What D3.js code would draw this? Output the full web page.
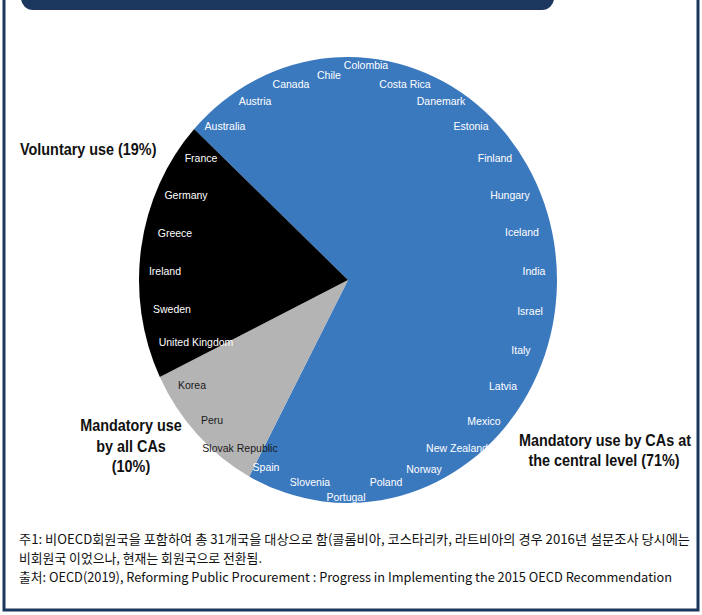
<!DOCTYPE html>
<html>
<head>
<meta charset="utf-8">
<script src="https://cdn.jsdelivr.net/npm/d3@7"></script>
<style>
  html, body { margin: 0; padding: 0; background: #ffffff; }
  svg { display: block; }
</style>
</head>
<body>
<svg id="chart" width="702" height="615"></svg>
<script>
// ---------------- DATA ----------------
const categories = [
  "Mandatory use by CAs at the central level",
  "Mandatory use by all CAs",
  "Voluntary use"
];
const shares = [71, 10, 19];
const shareLabels = ["71%", "10%", "19%"];

const countriesCentral = ["Australia", "Austria", "Canada", "Chile", "Colombia", "Costa Rica",
  "Danemark", "Estonia", "Finland", "Hungary", "Iceland", "India", "Israel", "Italy",
  "Latvia", "Mexico", "New Zealand", "Norway", "Poland", "Portugal", "Slovenia", "Spain"];
const countriesAll = ["Korea", "Peru", "Slovak Republic"];
const countriesVoluntary = ["France", "Germany", "Greece", "Ireland", "Sweden", "United Kingdom"];

const footnotes = [
  "주1: 비OECD회원국을 포함하여 총 31개국을 대상으로 함(콜롬비아, 코스타리카, 라트비아의 경우 2016년 설문조사 당시에는",
  "비회원국 이었으나, 현재는 회원국으로 전환됨.",
  "출처: OECD(2019), Reforming Public Procurement : Progress in Implementing the 2015 OECD Recommendation"
];

// ---------------- LAYOUT (positions / styles only) ----------------
const W = 702, H = 615;
const navy = "#1c375e";
const sliceColors = ["#3b79bf", "#b4b4b4", "#000000"];
const labelColors = ["#ffffff", "#1a1a1a", "#ffffff"];
const cx = 348, cy = 280, R = 209, yStretch = 1.067;
const startAngle = -47.4 * Math.PI / 180;

// label anchor points (centre x, baseline y)
const labelXY = {
  "Australia": [225, 130], "Austria": [255, 105], "Canada": [291, 87.5], "Chile": [329, 79],
  "Colombia": [366, 69], "Costa Rica": [405, 88], "Danemark": [441, 105], "Estonia": [471, 130],
  "Finland": [495, 162], "Hungary": [510, 199], "Iceland": [522, 236], "India": [534, 275],
  "Israel": [530, 315], "Italy": [521, 354], "Latvia": [503, 390], "Mexico": [484, 425],
  "New Zealand": [457, 452], "Norway": [424, 473], "Poland": [386, 486], "Portugal": [346, 501],
  "Slovenia": [310, 486], "Spain": [266, 471],
  "Korea": [192, 389], "Peru": [212, 424], "Slovak Republic": [240, 452],
  "France": [201, 162], "Germany": [186, 199], "Greece": [175, 237], "Ireland": [165, 275],
  "Sweden": [172, 313], "United Kingdom": [196, 346]
};

const svg = d3.select("#chart");

// frame
svg.append("rect").attr("x", 0).attr("y", 0).attr("width", W).attr("height", H).attr("fill", "#fff");
svg.append("path")
  .attr("d", `M4,0 V610 H698 V0`)
  .attr("fill", "none").attr("stroke", navy).attr("stroke-width", 3);

// header bar (cut at top)
svg.append("rect")
  .attr("x", 21).attr("y", -20).attr("width", 533).attr("height", 30)
  .attr("rx", 12).attr("ry", 12).attr("fill", navy);

// ---------------- PIE ----------------
const pie = d3.pie().sort(null).value(d => d)
  .startAngle(startAngle).endAngle(startAngle + 2 * Math.PI);
const arc = d3.arc().innerRadius(0).outerRadius(R);

const gPie = svg.append("g")
  .attr("transform", `translate(${cx},${cy}) scale(1,${yStretch})`);
gPie.selectAll("path.slice")
  .data(pie(shares))
  .join("path")
  .attr("class", "slice")
  .attr("d", arc)
  .attr("fill", (d, i) => sliceColors[i]);

// country labels
const groups = [countriesCentral, countriesAll, countriesVoluntary];
const gLab = svg.append("g")
  .attr("font-family", "'Liberation Sans', Arial, sans-serif")
  .attr("font-size", 10.5)
  .attr("text-anchor", "middle");
groups.forEach((list, gi) => {
  gLab.selectAll(null)
    .data(list)
    .join("text")
    .attr("x", d => labelXY[d][0])
    .attr("y", d => labelXY[d][1])
    .attr("fill", labelColors[gi])
    .text(d => d);
});

// ---------------- CATEGORY ANNOTATIONS ----------------
// condensed bold look: natural width at 14.4px, stretched vertically
const ann = svg.append("g")
  .attr("font-family", "'Liberation Sans', Arial, sans-serif")
  .attr("font-weight", "bold")
  .attr("font-size", 14.4)
  .attr("fill", "#111");

function annLine(txt, x, y, anchor) {
  ann.append("text")
    .attr("transform", `translate(${x},${y}) scale(1,1.2)`)
    .attr("text-anchor", anchor)
    .text(txt);
}
// Voluntary use
annLine(`${categories[2]} (${shareLabels[2]})`, 20, 155, "start");
// Mandatory use by all CAs
annLine("Mandatory use", 131, 431, "middle");
annLine("by all CAs", 131, 452, "middle");
annLine(`(${shareLabels[1]})`, 131, 472, "middle");
// Mandatory use by CAs at the central level
annLine("Mandatory use by CAs at", 605, 446, "middle");
annLine(`the central level (${shareLabels[0]})`, 604, 466, "middle");

// ---------------- FOOTNOTES ----------------
const fn = svg.append("g")
  .attr("font-family", "'Noto Sans CJK KR', 'Noto Sans', sans-serif")
  .attr("font-size", 13)
  .attr("fill", "#111");
const fnBase = [544, 563, 582];
const fnLen = [671, 243, 653];
footnotes.forEach((t, i) => {
  fn.append("text")
    .attr("x", 19).attr("y", fnBase[i])
    .attr("textLength", fnLen[i])
    .attr("lengthAdjust", "spacingAndGlyphs")
    .text(t);
});
</script>
</body>
</html>
